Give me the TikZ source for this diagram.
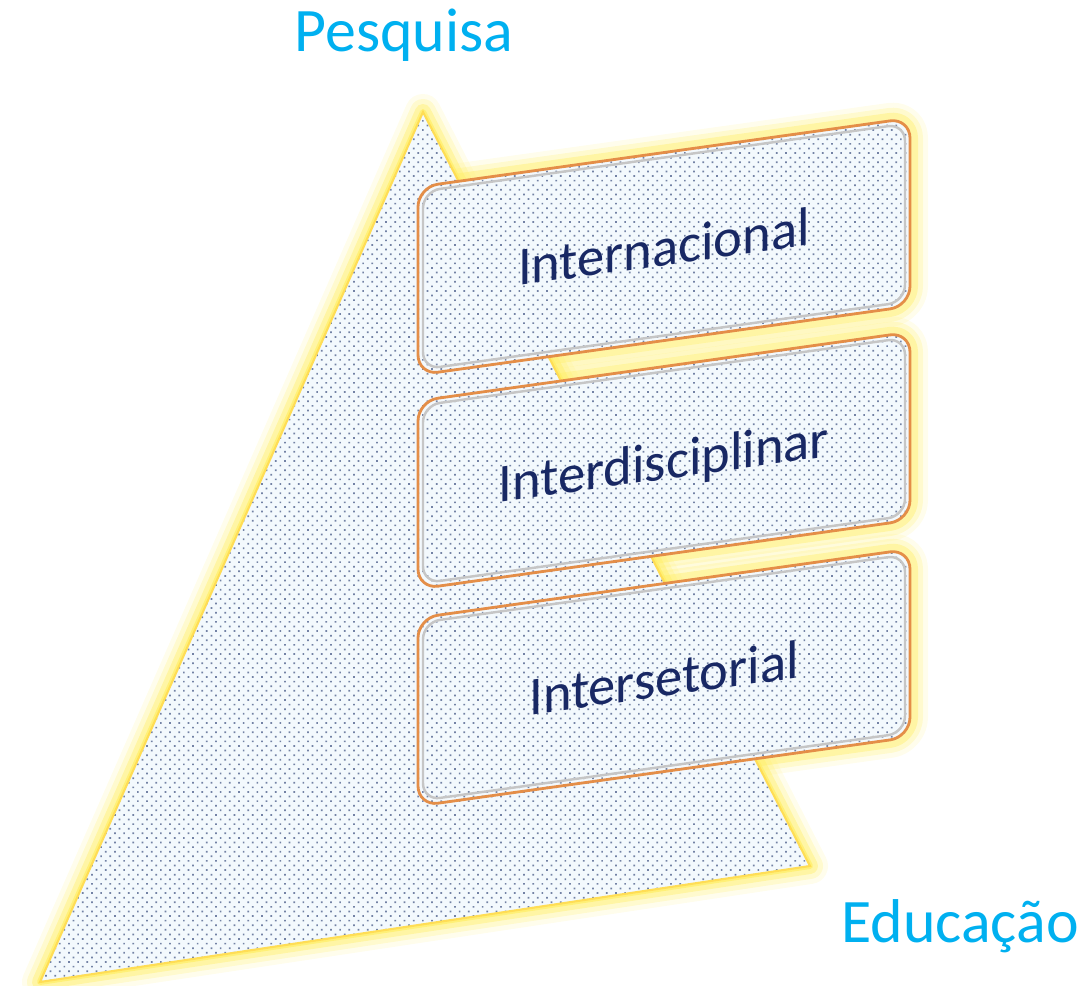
\documentclass[tikz,border=0pt]{standalone}
\usepackage{fontspec}
\setmainfont{Carlito}
\usepackage{tikz}
\usetikzlibrary{positioning, patterns.meta}

\definecolor{titlecyan}{RGB}{0,176,240}
\definecolor{boxnavy}{RGB}{24,40,100}
\definecolor{glowyellow}{RGB}{255,238,100}
\definecolor{paperblue}{RGB}{243,249,253}
\definecolor{dotgray}{RGB}{115,130,165}
\definecolor{rimorange}{RGB}{228,142,72}

\tikzset{
    dotfill/.style={preaction={fill=paperblue}, pattern={Dots[distance=0.065cm, radius=0.012cm, angle=45]}, pattern color=dotgray},
    glowline/.style={draw=glowyellow, line join=round},
    title/.style={text=titlecyan, anchor=base, inner sep=0pt, font=\fontsize{17.6}{20}\selectfont},
    levelbox/.style={transform shape, draw=rimorange, line width=0.8pt, rounded corners=0.2cm, dotfill,
        minimum width=4.92cm, minimum height=1.88cm, inner sep=0pt, text depth=0pt,
        text=boxnavy, font=\fontsize{15.5}{18}\selectfont},
    innerrim/.style={draw=gray!45, line width=0.7pt, rounded corners=0.17cm}
}

\begin{document}
\begin{tikzpicture}
    \useasboundingbox (0,0) rectangle (10.89,9.85);

    % Corners of the triangle
    \coordinate (apex) at (4.23,8.73);
    \coordinate (left) at (0.40,0.03);
    \coordinate (right) at (8.10,1.19);

    % Glow round the boxes
    \begin{scope}[shift={(4.18,0)}, yslant=0.14]
      \foreach \y in {7.04, 4.90, 2.73} {
        \foreach \w/\o in {0.36/0.12, 0.26/0.22, 0.16/0.4} {
          \draw[glowline, line width=\w cm, opacity=\o, rounded corners=0.2cm] (0,\y-0.94) rectangle (4.92,\y+0.94);
        }
      }
    \end{scope}

    % Glow round the triangle
    \foreach \w/\o in {0.36/0.12, 0.26/0.22, 0.16/0.4, 0.06/0.7} {
      \draw[glowline, line width=\w cm, opacity=\o] (apex) -- (left) -- (right) -- cycle;
    }

    % Triangle
    \path[dotfill, draw=glowyellow!85!orange, line width=0.6pt] (apex) -- (left) -- (right) -- cycle;

    % Slanted boxes
    \begin{scope}[shift={(4.18,0)}, yslant=0.14]
      \foreach \n/\y/\t in {intl/7.04/Internacional, interdisc/4.90/Interdisciplinar, interset/2.73/Intersetorial} {
        \node[levelbox] (\n) at (2.46,\y) {\t};
        \draw[innerrim] (0.05,\y-0.89) rectangle (4.87,\y+0.89);
      }
    \end{scope}

    % Labels
    \node[title] (pesquisa) at (4.04,9.33) {Pesquisa};
    \node[title] (educacao) at (9.60,0.42) {Educação};

\end{tikzpicture}
\end{document}
